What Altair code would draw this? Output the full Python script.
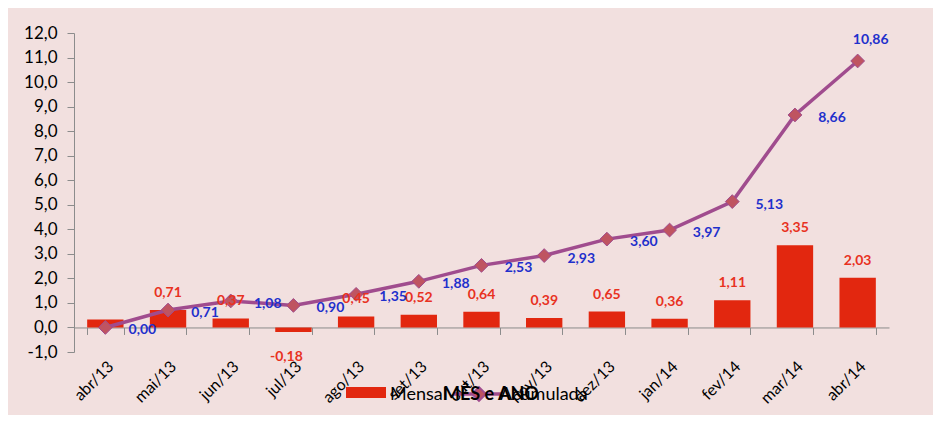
import altair as alt
import pandas as pd

meses = ["abr/13", "mai/13", "jun/13", "jul/13", "ago/13", "set/13", "out/13",
         "nov/13", "dez/13", "jan/14", "fev/14", "mar/14", "abr/14"]
mensal = [0.32, 0.71, 0.37, -0.18, 0.45, 0.52, 0.64, 0.39, 0.65, 0.36, 1.11, 3.35, 2.03]
mensal_label = ["", "0,71", "0,37", "-0,18", "0,45", "0,52", "0,64", "0,39", "0,65",
                "0,36", "1,11", "3,35", "2,03"]
acumulada = [0.00, 0.71, 1.08, 0.90, 1.35, 1.88, 2.53, 2.93, 3.60, 3.97, 5.13, 8.66, 10.86]
y_ticks = list(range(-1, 13))
legend_names = ["Mensal", "Acumulada"]
legend_title = "MÊS e ANO"

df = pd.DataFrame({
    "mes": meses,
    "mensal": mensal,
    "mensal_lbl": mensal_label,
    "acum": acumulada,
    "idx": list(range(len(meses))),
})
df["acum_lbl"] = df["acum"].map(lambda v: f"{v:.2f}".replace(".", ","))

W, H = 815, 319
FONT = "Lato"
BG = "#F2E0DF"
RED = "#E2270F"
LBL_RED = "#E8321F"
BLUE = "#1F30CC"
LINE = "#A04C8E"
DIAMOND = "#BF5461"
AXIS_GRAY = "#8C8C8C"

x_sort = meses
xscale = alt.Scale(paddingInner=0.42, paddingOuter=0.21)
yscale = alt.Scale(domain=[-1, 12], nice=False, zero=False)

YAX = alt.Axis(values=y_ticks, tickCount=14, grid=False, labelFont=FONT, labelFontSize=17,
               labelColor="#000", domainColor=AXIS_GRAY, tickColor=AXIS_GRAY,
               tickSize=7, labelPadding=10, labelOverlap=False,
               labelExpr="replace(replace(format(datum.value, '.1f'), '.', ','), '\u2212', '-')")


def X(axis=None):
    if axis is None:
        return alt.X("mes:N", sort=x_sort, scale=xscale, title=None, axis=None)
    return alt.X("mes:N", sort=x_sort, scale=xscale, title=None, axis=axis)


def Y(field):
    return alt.Y(field, scale=yscale, title=None, axis=YAX)


base = alt.Chart(df)

bars = base.mark_bar(color=RED).encode(
    x=X(alt.Axis(orient="bottom", labelAngle=-45, labelFont=FONT,
                 labelFontSize=16, labelColor="#000", domain=False,
                 ticks=False, labelPadding=6)),
    y=Y("mensal:Q"),
)

zero_axis = base.mark_line(opacity=0).encode(
    x=X(alt.Axis(orient="bottom", labels=False, domainColor=AXIS_GRAY,
                 tickColor=AXIS_GRAY, tickSize=7, tickBand="extent",
                 offset=-H / 13.0)),
    y=Y("acum:Q"),
)

line = base.mark_line(color=LINE, strokeWidth=3.5).encode(x=X(), y=Y("acum:Q"))
pts = base.mark_point(shape="diamond", filled=True, size=190, color=DIAMOND,
                      stroke=LINE, strokeWidth=1, opacity=1).encode(x=X(), y=Y("acum:Q"))

bar_lbl_pos = base.transform_filter("datum.mensal >= 0").mark_text(
    font=FONT, fontSize=14, fontWeight="bold", color=LBL_RED, baseline="middle", dy=-17
).encode(x=X(), y=Y("mensal:Q"), text="mensal_lbl:N")
bar_lbl_neg = base.transform_filter("datum.mensal < 0").mark_text(
    font=FONT, fontSize=14, fontWeight="bold", color=LBL_RED, baseline="middle", dy=25, dx=-7
).encode(x=X(), y=Y("mensal:Q"), text="mensal_lbl:N")

line_lbl = base.transform_filter("datum.idx < 12").mark_text(
    font=FONT, fontSize=14, fontWeight="bold", color=BLUE, baseline="middle", dx=37, dy=3
).encode(x=X(), y=Y("acum:Q"), text="acum_lbl:N")
line_lbl_last = base.transform_filter("datum.idx == 12").mark_text(
    font=FONT, fontSize=14, fontWeight="bold", color=BLUE, baseline="middle", dx=13, dy=-21
).encode(x=X(), y=Y("acum:Q"), text="acum_lbl:N")

# legend (drawn manually, overlapping the axis labels as in the original)
leg_df = pd.DataFrame({"name": legend_names})
leg = alt.Chart(leg_df)
f0 = f"datum.name == '{legend_names[0]}'"
f1 = f"datum.name == '{legend_names[1]}'"
leg_rect = leg.transform_filter(f0).mark_rect(color=RED).encode(
    x=alt.value(272), x2=alt.value(312), y=alt.value(354), y2=alt.value(365))
leg_text1 = leg.transform_filter(f0).mark_text(
    font=FONT, fontSize=18, align="left", baseline="middle", color="#000").encode(
    x=alt.value(316), y=alt.value(362), text="name:N")
leg_line = leg.transform_filter(f1).mark_rule(
    color=LINE, strokeWidth=3.5).encode(
    x=alt.value(379), x2=alt.value(428), y=alt.value(361))
leg_dia = leg.transform_filter(f1).mark_point(
    shape="diamond", filled=True, size=190, color=DIAMOND, stroke=LINE, opacity=1).encode(
    x=alt.value(405), y=alt.value(361))
leg_text2 = leg.transform_filter(f1).mark_text(
    font=FONT, fontSize=18, align="left", baseline="middle", color="#000").encode(
    x=alt.value(426), y=alt.value(362), text="name:N")
leg_title = leg.transform_filter(f0).mark_text(
    font=FONT, fontSize=18, fontWeight="bold", align="left", baseline="middle", color="#000",
    text=legend_title).encode(
    x=alt.value(369), y=alt.value(362))

chart = alt.layer(
    bars, zero_axis, line, pts, bar_lbl_pos, bar_lbl_neg, line_lbl, line_lbl_last,
    leg_rect, leg_text1, leg_line, leg_dia, leg_title, leg_text2,
).resolve_axis(x="independent").properties(
    width=W, height=H,
    padding={"left": 66, "top": 25, "right": 44, "bottom": 63},
    autosize=alt.AutoSizeParams(type="none"),
    background=BG,
).configure_view(stroke=None)

chart.save("out.html", embed_options={"renderer": "svg", "actions": False})
